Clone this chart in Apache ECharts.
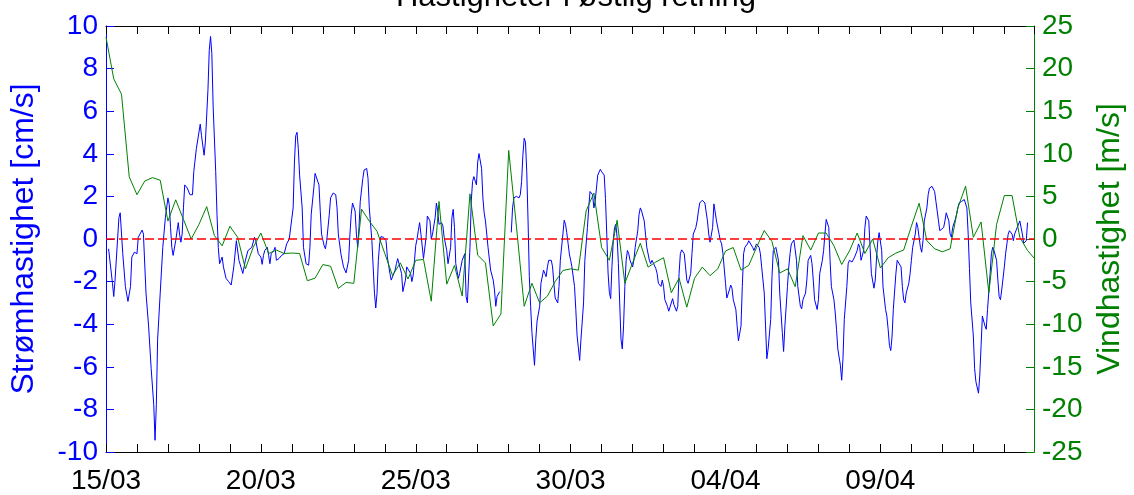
<!DOCTYPE html>
<html>
<head>
<meta charset="utf-8">
<script src="https://cdn.jsdelivr.net/npm/echarts@6/dist/echarts.min.js"></script>
<style>
  html, body { margin: 0; padding: 0; background: #ffffff; }
  #chart { width: 1134px; height: 495px; }
</style>
</head>
<body>
<div id="chart"></div>
<script>
// Date labels, one every 5 days (120 h) from 15/03 00:00
const dateLabels = ['15/03', '20/03', '25/03', '30/03', '04/04', '09/04'];

// Current speed, eastward component [cm/s]: [hours since 15/03 00:00, value]
const currentDays1to5 = [
  [2,-0.46],[5,-2.08],[6,-2.70],[7,-1.93],[10,1.00],[11,1.23],[13,-0.69],[15,-2.23],[17,-2.93],[19,-2.23],
  [20,-0.85],[22,-0.62],[24,-0.69],[25,0.08],[28,0.42],[29,0.23],[31,-2.54],[33,-4.08],[35,-6.09],[37,-7.78],
  [38,-9.45],[39,-7.78],[40,-4.70],[42,-2.54],[44,-0.39],[46,1.00],[48,1.93],[49,1.62],[50,0.54],[51,-0.39],
  [52,-0.77],[54,-0.08],[56,0.77],[57,0.23],[58,-0.15],[59,0.23],[60,1.46],[61,2.54],[63,2.39],[65,2.08],
  [67,2.08],[68,3.16],[70,4.24],[73,5.39],[74,4.85],[76,3.93],[77,4.55],[79,7.01],[80,8.86],[81,9.51],
  [82,8.71],[83,6.24],[85,3.16],[86,1.16],[87,-0.39],[88,-1.16],[90,-0.85],[91,-1.31],[93,-1.85],[95,-2.00],
  [97,-2.16],[99,-1.31],[101,-0.08],[102,0.00],[103,-1.00],[106,-1.62],[108,-1.00],[110,-0.54],[111,-0.54],[113,-0.39],
  [115,0.08],[116,-0.08],[118,-0.69],[120,-0.85]
];
const currentDays6to10 = [
  [121,-1.19],[122,-0.77],[123,-0.54],[125,-0.39],[126,-0.77],[127,-1.16],[128,-0.69],[130,-0.54],[131,-0.39],[132,-1.00],
  [134,-0.92],[135,-0.85],[136,-0.77],[138,-0.69],[140,-0.23],[142,0.00],[143,0.08],[145,1.46],[146,3.62],[147,4.85],
  [148,5.01],[149,4.24],[150,3.00],[152,1.46],[153,-0.39],[155,-1.16],[157,-1.23],[158,-0.39],[159,1.16],[161,2.39],
  [162,3.08],[163,3.16],[165,2.54],[166,1.31],[167,0.23],[169,-0.31],[170,-0.46],[171,-0.08],[173,1.16],[174,1.93],
  [176,2.16],[178,2.08],[179,1.46],[180,0.23],[182,-0.69],[184,-1.31],[186,-1.59],[188,-1.00],[189,0.23],[190,1.16],
  [191,1.69],[193,1.31],[194,0.23],[195,-0.39],[196,0.54],[197,1.77],[199,2.85],[200,3.24],[202,3.31],[203,2.85],
  [204,1.46],[206,-0.08],[207,-1.31],[208,-2.54],[209,-3.24],[210,-2.54],[211,-1.00],[212,-0.23],[213,0.11],[215,0.08],
  [216,0.08],[217,-0.08],[218,-0.85],[220,-1.62],[221,-1.93],[222,-1.93],[224,-1.46],[225,-1.16],[226,-0.92],[227,-1.00],
  [229,-1.62],[230,-2.47],[232,-1.93],[233,-1.31],[234,-1.23],[236,-1.62],[237,-2.00],[238,-1.70],[239,-1.00],[240,-0.30]
];
const currentDays11to15 = [
  [241,0.00],[242,0.40],[243,0.77],[244,0.23],[246,-0.92],[247,-1.00],[248,0.08],[249,1.08],[251,0.85],[252,0.00],
  [253,0.23],[255,1.00],[256,1.69],[257,1.31],[258,0.69],[260,0.77],[261,0.62],[262,0.08],[264,-0.54],[265,-1.16],
  [267,-0.39],[268,1.00],[269,1.39],[270,0.54],[271,-1.16],[273,-1.85],[274,-1.62],[275,-1.31],[276,-1.00],[278,-0.69],
  [279,-2.70],[280,-3.00],[282,-0.39],[283,1.77],[284,2.70],[285,2.93],[287,2.54],[288,3.62],[289,4.01],[291,3.31],
  [292,1.93],[293,1.23],[294,0.85],[296,-0.39],[298,-1.46],[300,-1.93],[301,-2.39],[302,-3.16],[303,-2.70],[305,-2.47],
  [309,null],
  [314,0.31],[315,1.46],[316,1.93],[318,2.00],[320,1.93],[321,2.08],[322,2.70],[323,3.93],[324,4.73],[325,4.55],
  [326,3.16],[327,0.85],[328,-1.77],[329,-3.16],[330,-4.39],[332,-5.93],[333,-4.70],[334,-3.85],[335,-3.78],[336,-3.16],
  [337,-2.08],[339,-1.46],[340,-1.62],[341,-1.77],[342,-1.31],[343,-1.00],[345,-1.00],[346,-1.31],[347,-2.08],[348,-2.77],
  [350,-3.00],[351,-2.23],[352,-1.00],[354,0.23],[355,0.88],[356,0.69],[357,0.30],[358,-0.20],[359,-0.70],[360,-1.00]
];
const currentDays16to20 = [
  [361,-1.31],[363,-2.23],[364,-3.31],[365,-4.55],[367,-5.70],[368,-4.70],[370,-3.00],[371,-1.00],[373,0.54],[374,1.46],
  [375,2.23],[376,2.31],[377,2.08],[378,1.46],[379,1.77],[380,2.39],[381,3.00],[383,3.27],[384,3.16],[385,3.08],
  [386,3.00],[387,1.90],[388,0.20],[389,-1.60],[390,-2.50],[391,-2.80],[392,-1.30],[393,-0.08],[394,0.54],[395,0.69],
  [396,0.08],[397,-1.16],[398,-3.00],[399,-4.70],[400,-5.16],[401,-4.08],[402,-2.23],[403,-1.00],[404,-0.54],[405,-0.69],
  [406,-1.00],[408,-1.31],[409,-1.00],[410,-0.39],[412,0.39],[413,1.16],[414,1.46],[415,1.31],[417,0.85],[418,0.23],
  [419,-0.39],[421,-1.00],[422,-1.16],[423,-1.00],[424,-1.12],[426,-1.39],[427,-1.62],[428,-2.08],[430,-2.23],[431,-1.93],
  [432,-2.23],[433,-2.85],[435,-3.16],[436,-3.39],[437,-3.31],[439,-2.80],[440,-3.08],[442,-3.39],[443,-3.16],[444,-1.62],
  [445,-0.69],[446,-0.51],[448,-0.69],[449,-1.31],[450,-1.93],[451,-2.08],[453,-1.62],[454,-0.69],[455,0.23],[457,0.54],
  [458,0.85],[459,1.31],[460,1.69],[462,1.82],[463,1.77],[464,1.69],[466,0.85],[467,0.23],[468,-0.15],[470,0.54],
  [471,1.65],[472,1.62],[473,0.85],[475,0.23],[476,-0.08],[477,-0.23],[478,-0.69],[480,-2.08]
];
const currentDays21to25 = [
  [481,-2.77],[483,-2.39],[484,-2.16],[485,-2.31],[486,-2.85],[488,-3.31],[489,-4.08],[490,-4.78],[492,-4.08],[493,-2.23],
  [494,-0.69],[495,-0.39],[497,-0.23],[498,-0.08],[499,-0.15],[501,-0.39],[502,-0.54],[503,-0.39],[504,-0.23],[506,-0.39],
  [507,-0.69],[508,-1.31],[510,-2.54],[511,-4.08],[512,-5.62],[513,-5.16],[515,-3.78],[516,-1.77],[517,-0.54],[519,-0.39],
  [520,-0.31],[521,-1.00],[522,-2.54],[524,-4.39],[525,-5.28],[526,-4.08],[528,-2.23],[529,-1.31],[530,-0.69],[531,-0.23],
  [533,-0.05],[534,-0.08],[535,-1.00],[536,-2.23],[538,-3.16],[539,-3.28],[540,-2.85],[542,-2.54],[543,-1.93],[544,-1.00],
  [546,-0.77],[547,-1.16],[548,-1.93],[549,-2.85],[551,-3.31],[552,-2.85],[553,-1.62],[555,-1.00],[556,-0.54],[557,0.23],
  [558,0.92],[560,0.54],[561,-1.00],[562,-2.23],[564,-2.85],[565,-3.47],[566,-4.24],[567,-5.16],[569,-5.93],[570,-6.63],
  [571,-5.62],[572,-3.78],[574,-2.23],[575,-1.16],[576,-1.00],[578,-1.08],[579,-1.12],[580,-0.85],[582,-0.54],[583,-0.23],
  [584,-0.39],[585,-1.00],[587,-0.54],[588,0.54],[589,1.08],[591,0.85],[592,-0.39],[593,-1.62],[595,-2.31],[596,-1.93],
  [597,-0.90],[598,-0.10],[599,0.30],[600,0.35]
];
const currentDays26to30 = [
  [601,-0.54],[602,-2.23],[604,-3.31],[605,-3.62],[606,-4.24],[607,-5.00],[608,-5.24],[609,-4.60],[610,-3.30],[612,-1.62],
  [613,-1.00],[614,-0.92],[616,-1.31],[617,-2.23],[618,-2.85],[619,-3.00],[620,-2.54],[622,-2.08],[623,-1.62],[624,-1.00],
  [625,-0.39],[627,0.23],[628,0.77],[629,0.54],[631,-0.39],[632,-0.62],[633,-0.08],[634,0.85],[636,1.46],[637,2.08],
  [638,2.39],[640,2.47],[641,2.47],[642,2.23],[643,1.77],[645,0.85],[646,0.39],[647,0.39],[649,0.54],[650,0.85],
  [651,1.23],[652,1.23],[653,0.85],[654,0.23],[655,0.08],[656,0.54],[658,0.92],[659,1.16],[660,1.46],[661,1.69],
  [663,1.77],[664,1.77],[665,1.85],[667,1.46],[668,0.23],[669,-1.39],[670,-3.00],[672,-4.55],[673,-6.09],[674,-6.70],
  [676,-7.24],[677,-6.39],[678,-5.01],[679,-3.62],[681,-4.08],[682,-4.24],[683,-3.31],[685,-1.62],[686,-0.69],[687,-0.39],
  [688,-0.54],[690,-1.00],[691,-1.93],[692,-2.70],[693,-2.85],[694,-2.39],[696,-1.31],[697,-0.69],[698,-0.23],[699,0.23],
  [700,0.39],[702,0.23],[703,-0.08],[704,0.23],[705,0.39],[706,0.39],[708,0.85],[709,0.85],[710,0.23],[711,-0.20],
  [712,-0.23],[713,-0.08],[714,0.77]
];

// Wind speed, eastward component [m/s], one value every 6 h from 15/03 00:00
const windStepHours = 6;
const windValues = [
  23.7, 18.8, 17.0, 7.3, 5.2, 6.8, 7.2, 6.9, 2.1, 4.6, 2.3, 0.0, 1.7, 3.8, 0.4, -0.8, 1.5, 0.2, -3.5, -1.0,
  0.7, -1.7, -1.3, -1.7, -1.65, -1.7, -4.9, -4.6, -3.0, -3.2, -5.8, -5.1, -5.2, 3.5, 2.1, 0.9, -1.7, -4.3, -2.8, -4.7,
  -2.5, -2.4, -7.3, 4.4, -5.3, -3.1, -6.7, 5.3, -1.9, -2.8, -10.2, -8.8, 10.4, 1.5, -7.9, -5.2, -7.5, -6.7, -5.0, -3.7,
  -3.5, -3.65, 3.3, 5.4, -1.0, -2.5, 2.2, -5.2, -2.8, -0.5, -3.3, -2.7, -2.2, -6.3, -4.6, -8.0, -4.6, -3.3, -4.3, -3.5,
  -1.4, -1.0, -3.65, -3.1, -1.0, 1.0, -0.3, -4.0, -3.5, -5.6, 0.4, -1.3, 0.7, 0.7, -0.8, -3.0, -1.4, 0.7, -1.7, 0.0,
  -3.4, -2.2, -1.65, -1.3, 1.5, 4.2, -0.2, -1.15, -1.5, -1.15, 3.65, 6.2, 0.2, 2.0, -6.3, 1.7, 5.1, 5.1, 0.2, -1.35,
  -2.4
];

const FONT = '"Liberation Sans", Arial, Helvetica, sans-serif';
const BLUE = '#0000ff';
const GREEN = '#008000';
const X_MAX = 719; // hours shown on the time axis

const currentData = []
  .concat(currentDays1to5, currentDays6to10, currentDays11to15,
          currentDays16to20, currentDays21to25, currentDays26to30)
  .map(([h, v]) => [h, v === null ? '-' : v]);
const windData = windValues.map((v, i) => [i * windStepHours, v]);

// Shared settings for the bottom and top time axes (one tick per day)
const xBase = {
  type: 'value', min: 0, max: X_MAX, interval: 24,
  splitLine: { show: false },
  axisLine: { show: true, onZero: false, lineStyle: { color: '#000000', width: 1 } },
  axisTick: { show: true, inside: true, length: 8, interval: 0, lineStyle: { color: '#000000', width: 1 } }
};

const chart = echarts.init(document.getElementById('chart'), null, { renderer: 'canvas' });
chart.setOption({
  animation: false,
  backgroundColor: '#ffffff',
  title: {
    text: 'Hastigheter i østlig retning',
    left: 571, top: -23, textAlign: 'center',
    textStyle: { fontFamily: FONT, fontSize: 31, fontWeight: 'normal', color: '#000000' }
  },
  grid: { left: 106, right: 98, top: 26, bottom: 36, containLabel: false },
  xAxis: [
    Object.assign({}, xBase, {
      position: 'bottom',
      axisLabel: {
        show: true, margin: 15, color: '#000000', fontFamily: FONT, fontSize: 28,
        showMaxLabel: false,
        formatter: v => (v % 120 === 0 ? dateLabels[v / 120] : '')
      }
    }),
    Object.assign({}, xBase, { position: 'top', axisLabel: { show: false } })
  ],
  yAxis: [
    {
      type: 'value', position: 'left', min: -10, max: 10, interval: 2,
      splitLine: { show: false },
      axisLine: { show: true, onZero: false, lineStyle: { color: BLUE, width: 1 } },
      axisTick: { show: true, inside: true, length: 8, lineStyle: { color: BLUE } },
      axisLabel: { color: BLUE, fontFamily: FONT, fontSize: 28, margin: 8 },
      name: 'Strømhastighet [cm/s]', nameLocation: 'middle', nameRotate: 90, nameGap: 66,
      nameTextStyle: { color: BLUE, fontFamily: FONT, fontSize: 32 }
    },
    {
      type: 'value', position: 'right', min: -25, max: 25, interval: 5,
      splitLine: { show: false },
      axisLine: { show: true, onZero: false, lineStyle: { color: GREEN, width: 1 } },
      axisTick: { show: true, inside: true, length: 8, lineStyle: { color: GREEN } },
      axisLabel: { color: GREEN, fontFamily: FONT, fontSize: 28, margin: 8 },
      name: 'Vindhastighet [m/s]', nameLocation: 'middle', nameRotate: 90, nameGap: 60,
      nameTextStyle: { color: GREEN, fontFamily: FONT, fontSize: 32 }
    }
  ],
  series: [
    {
      name: 'Strøm', type: 'line', xAxisIndex: 0, yAxisIndex: 0,
      data: currentData, showSymbol: false, connectNulls: false,
      lineStyle: { color: BLUE, width: 1 }, itemStyle: { color: BLUE },
      markLine: {
        silent: true, symbol: 'none', label: { show: false },
        lineStyle: { color: '#ff0000', type: [9, 4], width: 1.5 },
        emphasis: { disabled: true },
        data: [{ yAxis: 0 }]
      },
      z: 2
    },
    {
      name: 'Vind', type: 'line', xAxisIndex: 0, yAxisIndex: 1,
      data: windData, showSymbol: false,
      lineStyle: { color: GREEN, width: 1 }, itemStyle: { color: GREEN },
      z: 3
    }
  ]
});
</script>
</body>
</html>
